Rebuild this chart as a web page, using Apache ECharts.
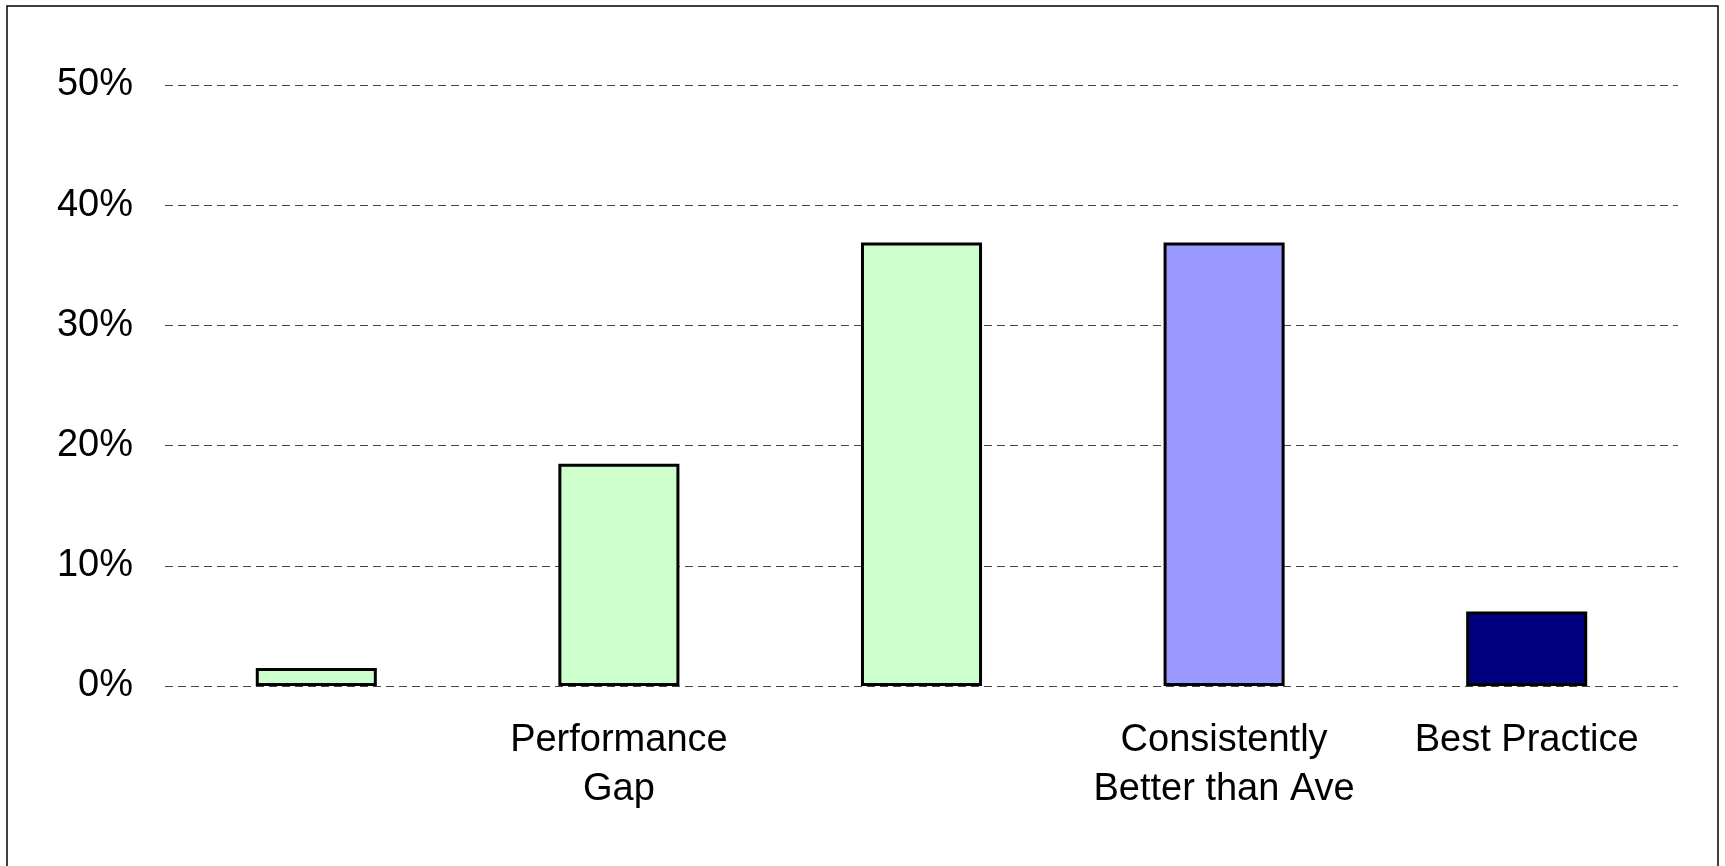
<!DOCTYPE html>
<html>
<head>
<meta charset="utf-8">
<script src="https://cdn.jsdelivr.net/npm/echarts@6/dist/echarts.min.js"></script>
<style>
  html, body { margin: 0; padding: 0; background: #fff; }
  #chart { width: 1725px; height: 866px; }
</style>
</head>
<body>
<div id="chart"></div>
<script>
// Data
var categories = ['', 'Performance\nGap', '', 'Consistently\nBetter than Ave', 'Best Practice'];
var values = [1.5, 18.5, 36.9, 36.9, 6.2];
var yTicks = [0, 10, 20, 30, 40, 50];

// Styles
var barColors = ['#CCFFCC', '#CCFFCC', '#CCFFCC', '#9999FF', '#000080'];

var chart = echarts.init(document.getElementById('chart'), null, { renderer: 'canvas' });
var fontFamily = '"Liberation Sans", Arial, sans-serif';

chart.setOption({
  backgroundColor: '#ffffff',
  animation: false,
  graphic: [{
    type: 'rect',
    shape: { x: 7, y: 6, width: 1711, height: 900 },
    style: { fill: 'none', stroke: '#000', lineWidth: 1.5 },
    silent: true
  }],
  grid: { left: 165, right: 47, top: 85, bottom: 180, containLabel: false },
  xAxis: {
    type: 'category',
    data: categories,
    axisLine: { show: false },
    axisTick: { show: false },
    axisLabel: {
      color: '#000',
      fontSize: 38,
      fontFamily: fontFamily,
      lineHeight: 49,
      margin: 30,
      interval: 0
    },
    splitLine: { show: false }
  },
  yAxis: {
    type: 'value',
    min: yTicks[0],
    max: yTicks[yTicks.length - 1],
    interval: yTicks[1] - yTicks[0],
    axisLine: { show: false },
    axisTick: { show: false },
    axisLabel: {
      color: '#000',
      fontSize: 38,
      fontFamily: fontFamily,
      margin: 32,
      formatter: '{value}%'
    },
    splitLine: {
      show: true,
      lineStyle: { color: '#444', width: 1, type: [8, 5] }
    }
  },
  series: [{
    type: 'bar',
    data: values.map(function (v, i) {
      return { value: v, itemStyle: { color: barColors[i] } };
    }),
    barWidth: '40%',
    itemStyle: { borderColor: '#000', borderWidth: 3 },
    z: 3
  }]
});
</script>
</body>
</html>
